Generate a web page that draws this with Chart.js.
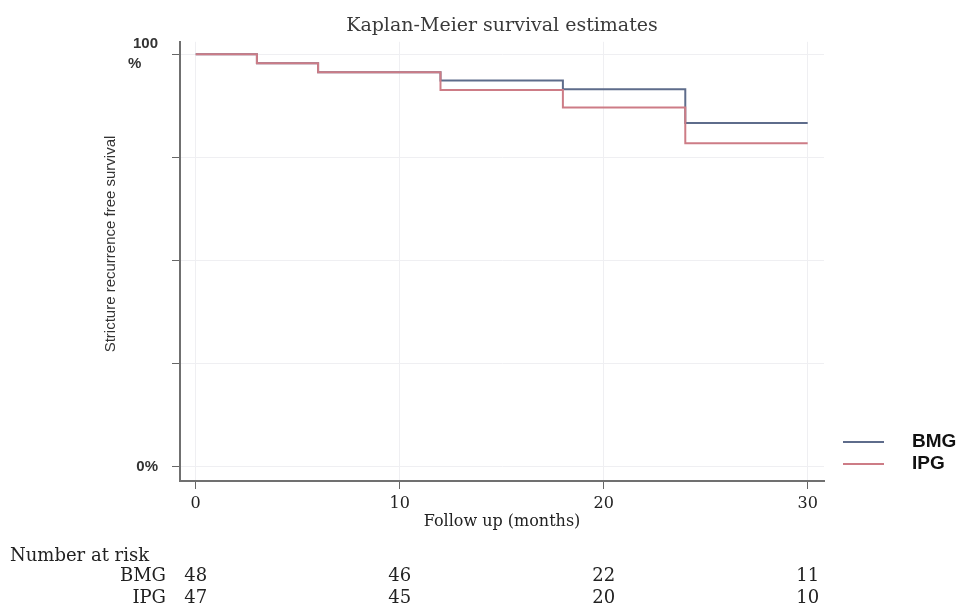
<!DOCTYPE html>
<html>
<head>
<meta charset="utf-8">
<title>Kaplan-Meier survival estimates</title>
<script src="https://cdn.jsdelivr.net/npm/chart.js@4/dist/chart.umd.min.js"></script>
<style>
  html, body { margin: 0; padding: 0; background: #fff; }
  canvas { display: block; }
</style>
</head>
<body>
<canvas id="km" width="979" height="613"></canvas>
<script>
// step points of the two survival curves (months, % event free)
var months = [0, 3, 6, 12, 18, 24, 30];
var bmgSurvival = [100, 97.8, 95.6, 93.6, 91.5, 83.3, 83.3];
var ipgSurvival = [100, 97.8, 95.6, 91.3, 87.1, 78.4, 78.4];

var xTicks = [0, 10, 20, 30];
var yTicks = [0, 25, 50, 75, 100];

// number at risk table
var riskTimes = [0, 10, 20, 30];
var bmgAtRisk = [48, 46, 22, 11];
var ipgAtRisk = [47, 45, 20, 10];

var groupLabels = ['BMG', 'IPG'];
var groupColors = ['#5e6c8b', '#cd7c86'];

function toPoints(values) {
    return months.map(function (m, i) { return {x: m, y: values[i]}; });
}

var serif = "'DejaVu Serif', 'Liberation Serif', serif";
var sans = "'Liberation Sans', Arial, sans-serif";

// y axis title, legend and risk table are drawn after the chart
var extrasPlugin = {
    id: 'kmExtras',
    afterDraw: function (chart) {
        var ctx = chart.ctx;
        var xScale = chart.scales.x;
        ctx.save();

        // y axis title
        ctx.save();
        ctx.translate(111, 244);
        ctx.rotate(-Math.PI / 2);
        ctx.font = '15px ' + sans;
        ctx.fillStyle = '#333';
        ctx.textAlign = 'center';
        ctx.textBaseline = 'middle';
        ctx.fillText('Stricture recurrence free survival', 0, 0);
        ctx.restore();

        // legend
        var legendY = [442, 464];
        chart.data.datasets.forEach(function (ds, i) {
            ctx.strokeStyle = ds.borderColor;
            ctx.lineWidth = 2;
            ctx.beginPath();
            ctx.moveTo(843, legendY[i]);
            ctx.lineTo(884, legendY[i]);
            ctx.stroke();
            ctx.font = 'bold 19px ' + sans;
            ctx.fillStyle = '#111';
            ctx.textAlign = 'left';
            ctx.textBaseline = 'middle';
            ctx.fillText(ds.label, 912, legendY[i]);
        });

        // number at risk
        ctx.font = '18px ' + serif;
        ctx.fillStyle = '#222';
        ctx.textBaseline = 'alphabetic';
        ctx.textAlign = 'left';
        ctx.fillText('Number at risk', 10, 561);
        var rows = [bmgAtRisk, ipgAtRisk];
        var rowY = [581, 603];
        rows.forEach(function (row, r) {
            ctx.textAlign = 'right';
            ctx.fillText(groupLabels[r], 166, rowY[r]);
            ctx.textAlign = 'center';
            row.forEach(function (n, i) {
                ctx.fillText(String(n), xScale.getPixelForValue(riskTimes[i]), rowY[r]);
            });
        });

        ctx.restore();
    }
};

new Chart(document.getElementById('km'), {
    type: 'line',
    data: {
        datasets: [{
            label: groupLabels[0],
            data: toPoints(bmgSurvival),
            borderColor: groupColors[0],
            borderWidth: 2,
            pointRadius: 0,
            stepped: true,
            order: 1
        }, {
            label: groupLabels[1],
            data: toPoints(ipgSurvival),
            borderColor: groupColors[1],
            borderWidth: 2,
            pointRadius: 0,
            stepped: true,
            order: 0
        }]
    },
    options: {
        responsive: false,
        animation: false,
        layout: {
            padding: {left: 0, right: 155, top: 0, bottom: 72}
        },
        plugins: {
            legend: {display: false},
            tooltip: {enabled: false},
            title: {
                display: true,
                text: 'Kaplan-Meier survival estimates',
                fullSize: false,
                color: '#3a3a3a',
                font: {family: serif, size: 19, weight: 'normal'},
                padding: {top: 15, bottom: 4}
            }
        },
        scales: {
            x: {
                type: 'linear',
                min: -0.77,
                max: 30.8,
                afterBuildTicks: function (scale) {
                    scale.ticks = xTicks.map(function (v) { return {value: v}; });
                },
                afterFit: function (scale) { scale.height = 60; },
                grid: {color: '#efeff2', tickColor: '#666', tickLength: 8},
                border: {color: '#707070', width: 2},
                ticks: {
                    color: '#222',
                    font: {family: serif, size: 16},
                    padding: 5,
                    maxRotation: 0
                },
                title: {
                    display: true,
                    text: 'Follow up (months)',
                    color: '#222',
                    font: {family: serif, size: 16},
                    padding: {top: 0, bottom: 10}
                }
            },
            y: {
                min: -3.47,
                max: 103,
                afterBuildTicks: function (scale) {
                    scale.ticks = yTicks.map(function (v) { return {value: v}; });
                },
                afterFit: function (scale) { scale.width = 180; },
                grid: {color: '#efeff2', tickColor: '#666', tickLength: 8},
                border: {color: '#707070', width: 2},
                ticks: {
                    color: '#333',
                    font: {family: sans, size: 15, weight: 'bold', lineHeight: 1.35},
                    padding: 14,
                    callback: function (value) {
                        if (value === 100) return ['100', '%    '];
                        if (value === 0) return '0%';
                        return '';
                    }
                }
            }
        }
    },
    plugins: [extrasPlugin]
});
</script>
</body>
</html>
